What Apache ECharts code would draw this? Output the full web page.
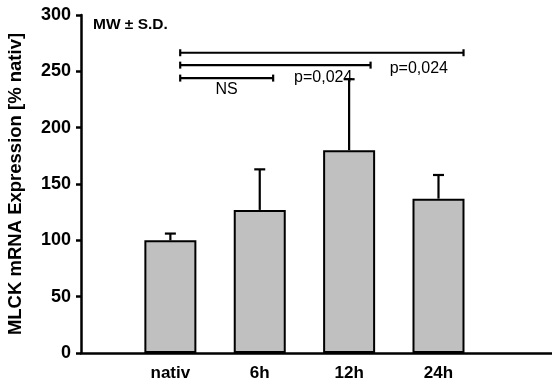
<!DOCTYPE html>
<html>
<head>
<meta charset="utf-8">
<script src="https://cdn.jsdelivr.net/npm/echarts@6/dist/echarts.min.js"></script>
<style>
  html, body { margin: 0; padding: 0; background: #ffffff; }
  #main { width: 552px; height: 385px; }
</style>
</head>
<body>
<div id="main"></div>
<script>
  // Gruppen und Werte (MW ± S.D.)
  var groups = ['nativ', '6h', '12h', '24h'];
  var means = [100, 127, 180, 137];
  var sds = [6, 36, 63, 21];
  var yTicks = [0, 50, 100, 150, 200, 250, 300];

  // Signifikanz-Klammern: von / bis (Gruppen-Position 1..4), Höhe (Wert)
  var bracketFrom = [1.11, 1.11, 1.11];
  var bracketTo = [2.15, 3.24, 4.28];
  var bracketY = [244, 255.5, 266.5];
  // Beschriftungen der Klammern
  var noteText = ['NS', 'p=0,024', 'p=0,024'];
  var noteX = [1.63, 2.71, 3.78];
  var noteY = [234, 244.7, 252.7];

  var FONT = 'Liberation Sans, Arial, Helvetica, sans-serif';

  var chart = echarts.init(document.getElementById('main'), null, { renderer: 'canvas' });

  var barData = groups.map(function (g, i) { return [i + 1, means[i]]; });
  var errData = groups.map(function (g, i) { return [i + 1, means[i], sds[i]]; });
  var bracketData = bracketFrom.map(function (f, i) { return [f, bracketTo[i], bracketY[i]]; });
  var noteData = noteText.map(function (t, i) { return [noteX[i], noteY[i]]; });

  chart.setOption({
    backgroundColor: '#ffffff',
    animation: false,
    grid: {
      left: 81,
      top: 15,
      right: 0,
      bottom: 32,
      containLabel: false,
      outerBoundsMode: 'none'
    },
    graphic: [{
      type: 'text',
      left: 93,
      top: 17,
      style: {
        text: 'MW ± S.D.',
        font: 'bold 15.5px ' + FONT,
        fill: '#000'
      }
    }],
    xAxis: {
      type: 'value',
      min: 0,
      max: 5.27,
      interval: 1,
      axisLine: { show: true, lineStyle: { color: '#000', width: 2.5 } },
      axisTick: { show: false },
      splitLine: { show: false },
      axisLabel: {
        margin: 12,
        color: '#000',
        fontWeight: 'bold',
        fontSize: 17,
        fontFamily: FONT,
        showMaxLabel: false,
        formatter: function (v) {
          var k = Math.round(v);
          return (Math.abs(v - k) < 1e-6 && groups[k - 1] !== undefined) ? groups[k - 1] : '';
        }
      }
    },
    yAxis: {
      type: 'value',
      min: yTicks[0],
      max: yTicks[yTicks.length - 1],
      interval: 50,
      name: 'MLCK mRNA Expression [% nativ]',
      nameLocation: 'middle',
      nameGap: 56,
      nameTextStyle: {
        color: '#000',
        fontWeight: 'bold',
        fontSize: 18.5,
        fontFamily: FONT
      },
      axisLine: { show: true, lineStyle: { color: '#000', width: 2.5 } },
      axisTick: { show: true, length: 5, lineStyle: { color: '#000', width: 2.5 } },
      splitLine: { show: false },
      axisLabel: {
        margin: 10,
        color: '#000',
        fontWeight: 'bold',
        fontSize: 18,
        fontFamily: FONT
      }
    },
    series: [
      {
        type: 'bar',
        data: barData,
        barWidth: 52,
        itemStyle: { color: '#c0c0c0', borderColor: '#000', borderWidth: 2 },
        z: 2
      },
      {
        // Fehlerbalken nur nach oben
        type: 'custom',
        data: errData,
        z: 3,
        renderItem: function (params, api) {
          var x = api.value(0);
          var top = api.coord([x, api.value(1)]);
          var end = api.coord([x, api.value(1) + api.value(2)]);
          var half = 5.5;
          var st = { stroke: '#000', lineWidth: 2.2 };
          return {
            type: 'group',
            children: [
              { type: 'line', shape: { x1: top[0], y1: top[1], x2: end[0], y2: end[1] }, style: st },
              { type: 'line', shape: { x1: end[0] - half, y1: end[1], x2: end[0] + half, y2: end[1] }, style: st }
            ]
          };
        }
      },
      {
        // Klammern
        type: 'custom',
        data: bracketData,
        z: 3,
        renderItem: function (params, api) {
          var a = api.coord([api.value(0), api.value(2)]);
          var b = api.coord([api.value(1), api.value(2)]);
          var h = 3.5;
          var st = { stroke: '#000', lineWidth: 2.2 };
          return {
            type: 'group',
            children: [
              { type: 'line', shape: { x1: a[0], y1: a[1], x2: b[0], y2: b[1] }, style: st },
              { type: 'line', shape: { x1: a[0], y1: a[1] - h, x2: a[0], y2: a[1] + h }, style: st },
              { type: 'line', shape: { x1: b[0], y1: b[1] - h, x2: b[0], y2: b[1] + h }, style: st }
            ]
          };
        }
      },
      {
        type: 'custom',
        data: noteData,
        z: 4,
        renderItem: function (params, api) {
          var p = api.coord([api.value(0), api.value(1)]);
          return {
            type: 'text',
            style: {
              text: noteText[params.dataIndex],
              x: p[0],
              y: p[1],
              align: 'center',
              verticalAlign: 'middle',
              font: '16px ' + FONT,
              fill: '#000'
            }
          };
        }
      }
    ]
  });
</script>
</body>
</html>
